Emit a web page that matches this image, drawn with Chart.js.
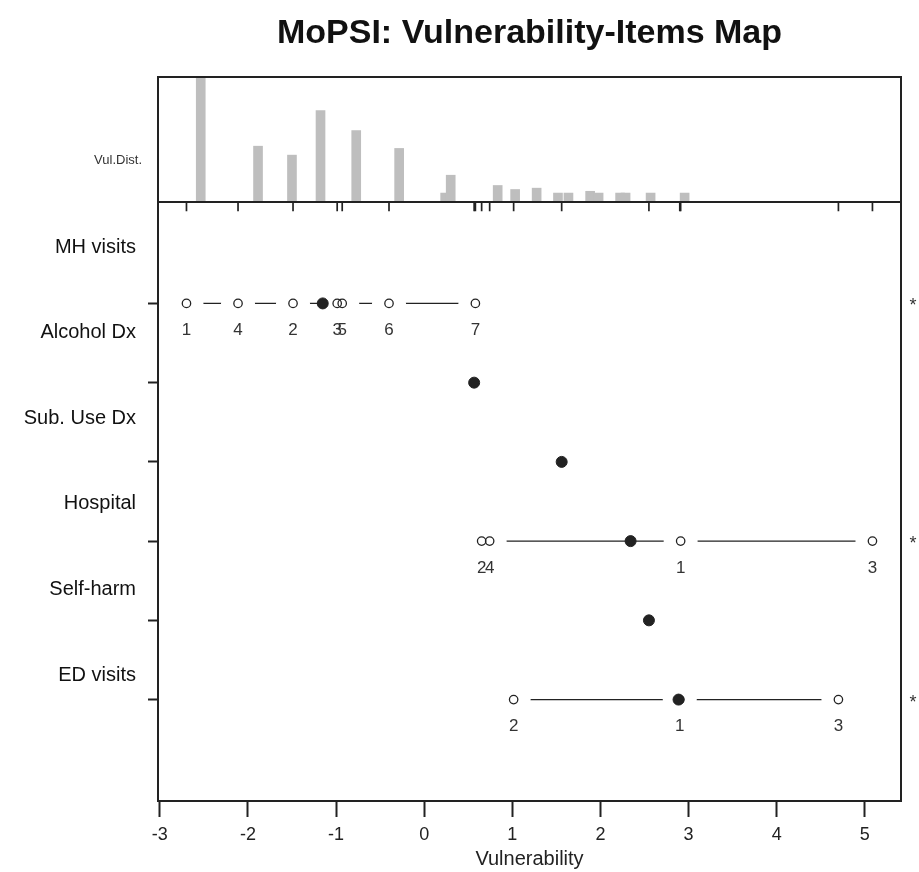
<!DOCTYPE html>
<html>
<head>
<meta charset="utf-8">
<script src="https://cdn.jsdelivr.net/npm/chart.js@4.4.0/dist/chart.umd.min.js"></script>
<style>
  html, body { margin: 0; background: #fff; }
  #wrap { position: relative; width: 919px; height: 872px; }
  #wrap canvas { position: absolute; left: 0; top: 0; }
</style>
</head>
<body>
<div id="wrap">
  <canvas id="map" width="919" height="872"></canvas>
  <canvas id="hist" width="919" height="872"></canvas>
</div>
<script>
// person distribution (top panel): bin centre and height
const histX     = [-2.535, -1.885, -1.50, -1.176, -0.771, -0.284, 0.238, 0.301, 0.834, 1.032, 1.276, 1.518, 1.637, 1.883, 1.979, 2.223, 2.285, 2.569, 2.955];
const histCount = [28, 12.5, 10.5, 20.5, 16, 12, 2, 6, 3.7, 2.8, 3.1, 2, 2, 2.4, 2, 2, 2, 2, 2];

// items, top row first
const itemNames    = ['MH visits', 'Alcohol Dx', 'Sub. Use Dx', 'Hospital', 'Self-harm', 'ED visits'];
const itemLocation = [-1.151, 0.567, 1.56, 2.342, 2.55, 2.886];

// step thresholds (index = step number - 1)
const thrMH       = [-2.697, -1.488, -0.987, -2.112, -0.930, -0.399, 0.581];
const thrHospital = [2.91, 0.652, 5.086, 0.743];
const thrED       = [2.90, 1.015, 4.70];
const itemThresholds = [thrMH, [], [], thrHospital, [], thrED];

const xTicks = [-3, -2, -1, 0, 1, 2, 3, 4, 5];

const XMIN = -3.02, XMAX = 5.41;
const YMIN = -0.28, YMAX = 7.28;
const FONT = "'Liberation Sans', Arial, sans-serif";
const INK = '#222';

const rowOf = (i) => i + 1;
const labelRow = (i) => 0.29 + 1.08 * i;   // names use their own spacing, like the original

// datasets
const lineSets = itemThresholds
  .map((t, i) => ({
    data: t.slice().sort((a, b) => a - b).map((v) => ({ x: v, y: rowOf(i) })),
    showLine: true, borderColor: INK, borderWidth: 1.4, pointRadius: 0, order: 4
  }))
  .filter((d) => d.data.length);

const thrPoints = [];
itemThresholds.forEach((t, i) => t.forEach((v, j) => thrPoints.push({ x: v, y: rowOf(i), step: j + 1 })));

const rug = [];
itemThresholds.forEach((t, i) => {
  if (t.length) t.forEach((v) => rug.push(v));
  else rug.push(itemLocation[i]);
});

const framePlugin = {
  id: 'frame',
  afterDraw(chart) {
    const { ctx, chartArea: a } = chart;
    ctx.save();
    ctx.strokeStyle = INK;
    ctx.lineWidth = 2;
    ctx.strokeRect(a.left, a.top, a.right - a.left, a.bottom - a.top);
    ctx.restore();
  }
};

const titlePlugin = {
  id: 'mapTitle',
  afterDraw(chart) {
    const { ctx, chartArea: a } = chart;
    ctx.save();
    ctx.font = 'bold 34px ' + FONT;
    ctx.fillStyle = '#111';
    ctx.textAlign = 'center';
    ctx.textBaseline = 'middle';
    ctx.fillText('MoPSI: Vulnerability-Items Map', (a.left + a.right) / 2, 34);
    ctx.restore();
  }
};

const stepLabelPlugin = {
  id: 'stepLabels',
  afterDatasetsDraw(chart) {
    const { ctx, chartArea: a } = chart;
    const xs = chart.scales.x, ys = chart.scales.y;
    ctx.save();
    ctx.fillStyle = '#333';
    ctx.textAlign = 'center';
    ctx.textBaseline = 'middle';
    ctx.font = '17px ' + FONT;
    thrPoints.forEach((p) => {
      ctx.fillText(String(p.step), xs.getPixelForValue(p.x), ys.getPixelForValue(p.y) + 27);
    });
    // asterisk beside items that have step thresholds
    ctx.font = '18px ' + FONT;
    itemThresholds.forEach((t, i) => {
      if (t.length) ctx.fillText('*', a.right + 12, ys.getPixelForValue(rowOf(i)) + 3);
    });
    ctx.restore();
  }
};

new Chart(document.getElementById('hist'), {
  type: 'bar',
  data: {
    datasets: [{
      data: histX.map((x, i) => ({ x, y: histCount[i] })),
      backgroundColor: '#bebebe',
      barThickness: 9
    }]
  },
  options: {
    responsive: false,
    animation: false,
    layout: { padding: { top: 77, right: 18, bottom: 670, left: 0 } },
    plugins: { legend: { display: false }, tooltip: { enabled: false } },
    scales: {
      x: { type: 'linear', min: XMIN, max: XMAX, offset: false, display: false },
      y: {
        min: 0, max: 28,
        afterBuildTicks: (s) => { s.ticks = [{ value: 9.4 }]; },
        afterFit: (s) => { s.width = 158; },
        ticks: { callback: () => 'Vul.Dist.', color: '#333', font: { family: FONT, size: 13 }, padding: 16 },
        grid: { display: false, drawTicks: false },
        border: { display: false }
      }
    }
  },
  plugins: [framePlugin, titlePlugin]
});

new Chart(document.getElementById('map'), {
  type: 'scatter',
  data: {
    datasets: [
      ...lineSets,
      { data: thrPoints, pointRadius: 17, pointBackgroundColor: '#fff', pointBorderWidth: 0, order: 3 },
      { data: thrPoints, pointRadius: 4.2, pointBackgroundColor: 'rgba(0,0,0,0)', pointBorderColor: INK, pointBorderWidth: 1.3, order: 2 },
      { data: itemLocation.map((v, i) => ({ x: v, y: rowOf(i) })), pointRadius: 5.5, pointBackgroundColor: INK, pointBorderColor: INK, pointBorderWidth: 1, order: 1 },
      { data: rug.map((v) => ({ x: v, y: YMIN + 0.06 })), pointStyle: 'line', rotation: 90, pointRadius: 4.5, pointBorderColor: INK, pointBorderWidth: 1.7, clip: false, order: 0 }
    ]
  },
  options: {
    responsive: false,
    animation: false,
    layout: { padding: { top: 202, right: 18, bottom: 0, left: 0 } },
    plugins: { legend: { display: false }, tooltip: { enabled: false } },
    scales: {
      x: {
        type: 'linear', position: 'bottom', min: XMIN, max: XMAX,
        afterBuildTicks: (s) => { s.ticks = xTicks.map((v) => ({ value: v })); },
        afterFit: (s) => { s.height = 71; },
        ticks: { color: INK, font: { family: FONT, size: 18 }, padding: 7 },
        grid: { drawOnChartArea: false, tickLength: 16, tickColor: INK, tickWidth: 2 },
        border: { display: false },
        title: { display: true, text: 'Vulnerability', color: INK, font: { family: FONT, size: 20 }, padding: { top: 0, bottom: 1 } }
      },
      y: {
        type: 'linear', position: 'left', min: YMIN, max: YMAX, reverse: true, weight: 0,
        afterBuildTicks: (s) => { s.ticks = itemNames.map((n, i) => ({ value: rowOf(i) })); },
        afterFit: (s) => { s.width = 11; },
        ticks: { callback: () => '', padding: 0 },
        grid: { drawOnChartArea: false, tickLength: 10, tickColor: INK, tickWidth: 2 },
        border: { display: false }
      },
      yl: {
        type: 'linear', position: 'left', min: YMIN, max: YMAX, reverse: true, weight: 1,
        afterBuildTicks: (s) => { s.ticks = itemNames.map((n, i) => ({ value: labelRow(i) })); },
        afterFit: (s) => { s.width = 147; },
        ticks: { callback: (v, i) => itemNames[i], color: '#111', font: { family: FONT, size: 20 }, padding: 11 },
        grid: { display: false, drawTicks: false },
        border: { display: false }
      }
    }
  },
  plugins: [framePlugin, stepLabelPlugin]
});
</script>
</body>
</html>
